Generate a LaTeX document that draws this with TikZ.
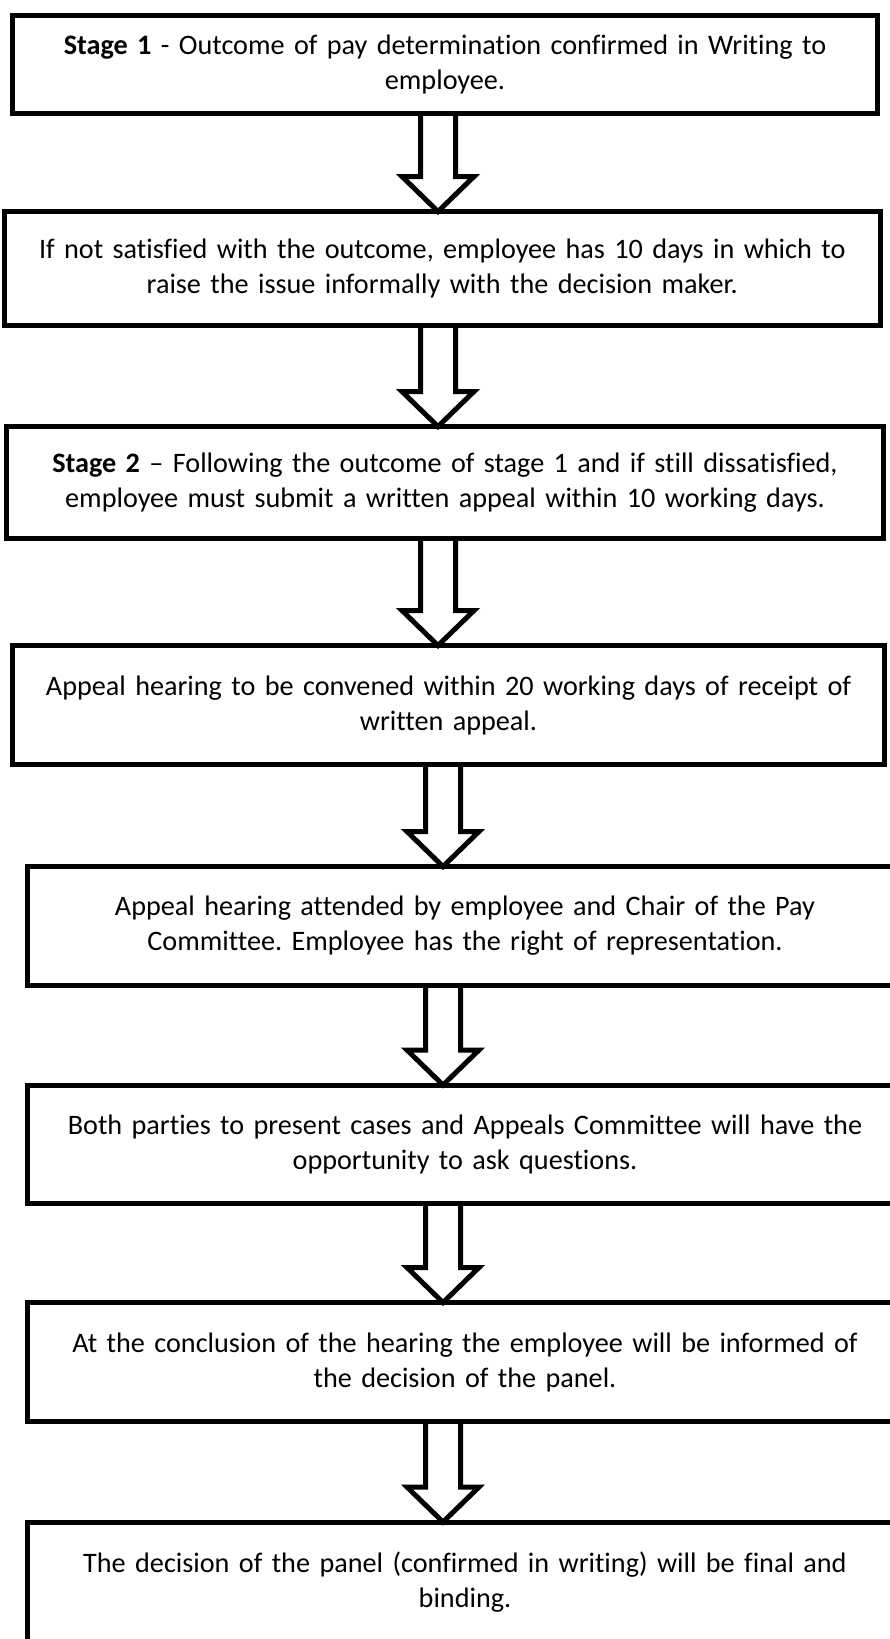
\documentclass[tikz,border=0pt]{standalone}
\usepackage{fontspec}
\setmainfont{Carlito}[Ligatures=NoCommon]
\frenchspacing
\usetikzlibrary{positioning,calc}

\newcommand{\stagearrow}[3]{%
  \draw[bigarrow] (#3-17.5,0 |- #1.south) -- ($(#3-17.5,0 |- #2.north)+(0,35)$) -- ++(-18.5,0)
    -- (#3,0 |- #2.north) -- ($(#3+36,0 |- #2.north)+(0,35)$) -- ++(-18.5,0) -- (#3+17.5,0 |- #1.south);
}

\begin{document}
\begin{tikzpicture}[x=1pt, y=1pt,
    stagebox/.style={rectangle, draw, line width=5pt, outer sep=0pt, inner sep=0pt, text width=#1,
      align=center, font=\fontsize{28.2}{35}\selectfont},
    bigarrow/.style={line width=5pt, line join=miter}]

\useasboundingbox (0,0) rectangle (890,-1639);

\node (s1) [stagebox=865pt, minimum height=98pt] at (445,-64) {\textbf{Stage 1} - Outcome of pay determination confirmed in Writing to\\employee.};
\node (s2) [stagebox=876.5pt, minimum height=113.5pt, below=98.5pt of s1, xshift=-2.75pt] {If not satisfied with the outcome, employee has 10 days in which to\\raise the issue informally with the decision maker.};
\node (s3) [stagebox=877pt, minimum height=112pt, below=101.5pt of s2, xshift=2.75pt] {\textbf{Stage 2} – Following the outcome of stage 1 and if still dissatisfied,\\employee must submit a written appeal within 10 working days.};
\node (s4) [stagebox=872pt, minimum height=119pt, below=107pt of s3, xshift=3.5pt] {Appeal hearing to be convened within 20 working days of receipt of\\written appeal.};
\node (s5) [stagebox=876pt, minimum height=119pt, below=102pt of s4, xshift=16.5pt] {Appeal hearing attended by employee and Chair of the Pay\\Committee. Employee has the right of representation.};
\node (s6) [stagebox=876pt, minimum height=118.5pt, below=99.5pt of s5] {Both parties to present cases and Appeals Committee will have the\\opportunity to ask questions.};
\node (s7) [stagebox=876pt, minimum height=119pt, below=99pt of s6] {At the conclusion of the hearing the employee will be informed of\\the decision of the panel.};
\node (s8) [stagebox=876pt, minimum height=120pt, below=100.5pt of s7] {The decision of the panel (confirmed in writing) will be final and\\binding.};

\stagearrow{s1}{s2}{438}
\stagearrow{s2}{s3}{438}
\stagearrow{s3}{s4}{438}
\stagearrow{s4}{s5}{443}
\stagearrow{s5}{s6}{443}
\stagearrow{s6}{s7}{443}
\stagearrow{s7}{s8}{443}
\end{tikzpicture}
\end{document}
